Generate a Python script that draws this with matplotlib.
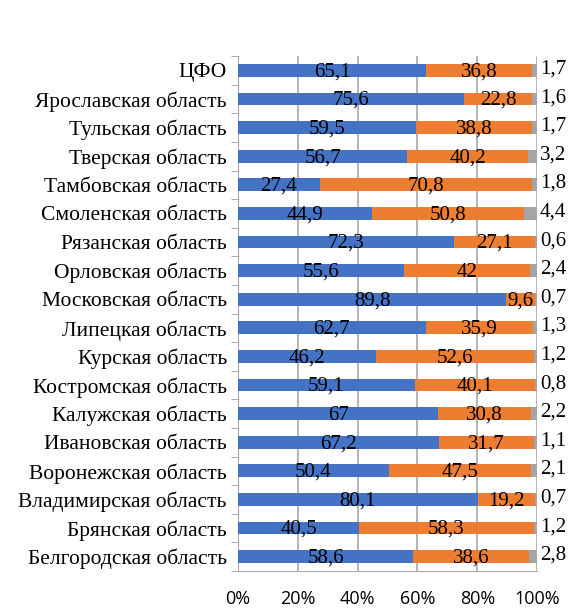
import matplotlib
matplotlib.use("Agg")
import matplotlib.pyplot as plt
import numpy as np

regions = ["ЦФО", "Ярославская область", "Тульская область", "Тверская область",
           "Тамбовская область", "Смоленская область", "Рязанская область",
           "Орловская область", "Московская область", "Липецкая область",
           "Курская область", "Костромская область", "Калужская область",
           "Ивановская область", "Воронежская область", "Владимирская область",
           "Брянская область", "Белгородская область"]
s1 = [65.1, 75.6, 59.5, 56.7, 27.4, 44.9, 72.3, 55.6, 89.8, 62.7, 46.2, 59.1, 67, 67.2, 50.4, 80.1, 40.5, 58.6]
s2 = [36.8, 22.8, 38.8, 40.2, 70.8, 50.8, 27.1, 42, 9.6, 35.9, 52.6, 40.1, 30.8, 31.7, 47.5, 19.2, 58.3, 38.6]
s3 = [1.7, 1.6, 1.7, 3.2, 1.8, 4.4, 0.6, 2.4, 0.7, 1.3, 1.2, 0.8, 2.2, 1.1, 2.1, 0.7, 1.2, 2.8]
xticks = [0, 20, 40, 60, 80, 100]

def fmt(v):
    return ("%g" % v).replace(".", ",")

a1, a2, a3 = np.array(s1), np.array(s2), np.array(s3)
tot = a1 + a2 + a3
p1, p2, p3 = a1 / tot * 100, a2 / tot * 100, a3 / tot * 100

n = len(regions)
y = np.arange(n)[::-1]

fig = plt.figure(figsize=(5.72, 6.10), dpi=100)
ax = fig.add_axes([0.416, 0.064, 0.523, 0.844])

h = 0.45
serif = "Liberation Serif"
ax.barh(y, p1, height=h, color="#4472C4", zorder=3)
ax.barh(y, p2, left=p1, height=h, color="#ED7D31", zorder=3)
ax.barh(y, p3, left=p1 + p2, height=h, color="#A5A5A5", zorder=3)

for i in range(n):
    ax.text(p1[i] / 2, y[i] - 0.05, fmt(s1[i]), ha="center", va="center",
            fontsize=15, family=serif, zorder=4)
    ax.text(p1[i] + p2[i] / 2, y[i] - 0.05, fmt(s2[i]), ha="center", va="center",
            fontsize=15, family=serif, zorder=4)
    ax.text(101, y[i] + 0.05, fmt(s3[i]), ha="left", va="center",
            fontsize=15, family=serif, zorder=4, clip_on=False)

ax.set_xlim(0, 100)
ax.set_ylim(-0.5, n - 0.5)
ax.set_xticks(xticks)
ax.set_xticklabels([f"{t}%" for t in xticks], fontsize=13, family="Open Sans")
ax.set_yticks(y)
ax.set_yticklabels(regions, fontsize=15.5, family=serif)
ax.tick_params(axis="x", length=0, pad=14)
ax.set_yticks(np.arange(-0.5, n, 1), minor=True)
ax.tick_params(axis="y", which="major", length=0, pad=8)
ax.tick_params(axis="y", which="minor", length=5, color="#A0A0A0")
ax.grid(axis="x", color="#A8A8A8", linewidth=1.2, zorder=0)
for s in ["top", "right"]:
    ax.spines[s].set_visible(False)
ax.spines["bottom"].set_color("#A8A8A8")
ax.spines["left"].set_color("#A8A8A8")

fig.savefig("out.png", dpi=100)
